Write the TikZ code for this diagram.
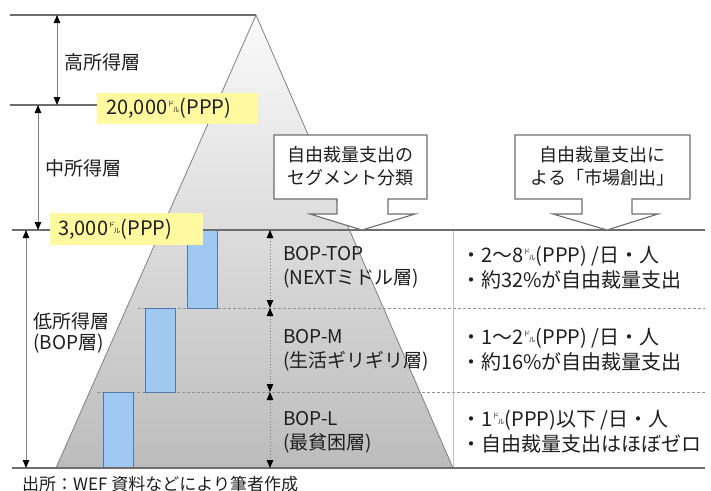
\documentclass[tikz,border=0pt]{standalone}
\usepackage{fontspec}
\setmainfont{Noto Sans CJK JP}
\usetikzlibrary{arrows.meta}
\definecolor{ylw}{RGB}{255,250,160}
\definecolor{pyrtop}{RGB}{250,250,250}
\definecolor{pyrbot}{RGB}{188,188,188}
\definecolor{barfill}{RGB}{160,200,240}
\definecolor{bardraw}{RGB}{80,120,170}
\definecolor{linegray}{RGB}{110,110,110}
\definecolor{txt}{RGB}{30,30,30}
\newcommand{\doru}{{\fontsize{7}{7}\selectfont\raisebox{8pt}{ド}\kern-1.5pt\raisebox{2pt}{ル}}}
\tikzset{
  hline/.style={draw=linegray, line width=1.2pt},
  dline/.style={draw=gray!85, line width=0.9pt, dash pattern=on 3pt off 2pt},
  edge/.style={draw=gray, line width=0.8pt},
  darrow/.style={draw=gray, line width=0.9pt, {Triangle[length=8pt,width=6.5pt,black]}-{Triangle[length=8pt,width=6.5pt,black]}},
  dotarrow/.style={draw=gray, line width=1pt, dash pattern=on 1.5pt off 1.5pt, {Triangle[length=8pt,width=6.5pt,black]}-{Triangle[length=8pt,width=6.5pt,black]}},
  bar/.style={draw=bardraw, fill=barfill, line width=1pt, anchor=north west, minimum width=30pt, inner sep=0pt},
  ybox/.style={fill=ylw, anchor=north west, inner sep=0pt},
  lbl/.style={text=txt, anchor=west, inner sep=0pt, font=\fontsize{19}{21}\selectfont, align=left},
  rlbl/.style={text=txt, anchor=west, inner sep=0pt, font=\fontsize{19}{24}\selectfont, align=left},
  clbl/.style={text=txt, inner sep=0pt, font=\fontsize{18}{23}\selectfont, align=center},
  callout/.style={draw=linegray, fill=white, line width=1.1pt, line join=miter},
}
\begin{document}
\begin{tikzpicture}[x=1pt,y=-1pt]
\useasboundingbox (0,0) rectangle (711,490);
\clip (0,0) rectangle (711,490);
% pyramid
\coordinate (apex) at (256,15);
\coordinate (pl) at (56,468);
\coordinate (pr) at (453,468);
\shade[top color=pyrtop, bottom color=pyrbot] (apex) -- (pl) -- (pr) -- cycle;
\draw[edge] (apex) -- (pl);
\draw[edge] (apex) -- (pr);
% dashed row separators
\coordinate (d1l) at (138,308); \coordinate (d1r) at (705,308);
\coordinate (d2l) at (97,392);  \coordinate (d2r) at (705,392);
\draw[dline] (d1l) -- (d1r);
\draw[dline] (d2l) -- (d2r);
% column divider
\coordinate (vt) at (453,230); \coordinate (vb) at (453,468);
\draw[draw=gray!50, line width=0.8pt] (vt) -- (vb);
% blue bars
\node[bar, minimum height=78pt] (b1) at (187,230) {};
\node[bar, minimum height=84pt] (b2) at (145,308) {};
\node[bar, minimum height=76pt] (b3) at (103,392) {};
% main horizontal lines
\coordinate (h0l) at (10,15);  \coordinate (h0r) at (256,15);
\coordinate (h1l) at (10,105); \coordinate (h1r) at (100,105);
\coordinate (h2l) at (12,230); \coordinate (h2r) at (705,230);
\coordinate (h3l) at (12,468); \coordinate (h3r) at (705,468);
\draw[hline] (h0l) -- (h0r);
\draw[hline] (h1l) -- (h1r);
\draw[hline] (h2l) -- (h2r);
\draw[hline] (h3l) -- (h3r);
% left arrows
\coordinate (a1t) at (57,15);  \coordinate (a1b) at (57,105);
\coordinate (a2t) at (38,105); \coordinate (a2b) at (38,230);
\coordinate (a3t) at (26,230); \coordinate (a3b) at (26,468);
\draw[darrow] (a1t) -- (a1b);
\draw[darrow] (a2t) -- (a2b);
\draw[darrow] (a3t) -- (a3b);
\node[lbl] (high) at (64,62) {高所得層};
\node[lbl] (mid) at (45,168) {中所得層};
\node[lbl] (low) at (33,333) {低所得層\\(BOP層)};
% yellow labels
\node[ybox, minimum width=161pt, minimum height=31pt] (y1) at (97,93) {};
\node[lbl, font=\fontsize{20}{20}\selectfont] (y1t) at ([xshift=9pt]y1.west) {20,000\doru(PPP)};
\node[ybox, minimum width=153pt, minimum height=32pt] (y2) at (50,213) {};
\node[lbl, font=\fontsize{20}{20}\selectfont] (y2t) at ([xshift=8pt]y2.west) {3,000\doru(PPP)};
% inner dotted arrows
\coordinate (i0) at (270,230); \coordinate (i1) at (270,308);
\coordinate (i2) at (270,392); \coordinate (i3) at (270,468);
\draw[dotarrow] (i0) -- (i1);
\draw[dotarrow] (i1) -- (i2);
\draw[dotarrow] (i2) -- (i3);
% segment labels
\node[rlbl] (s1) at (283,267) {BOP-TOP\\(NEXTミドル層)};
\node[rlbl] (s2) at (283,350) {BOP-M\\(生活ギリギリ層)};
\node[rlbl] (s3) at (283,432) {BOP-L\\(最貧困層)};
% right column
\node[rlbl, font=\fontsize{20}{25}\selectfont] (r1) at (461,268) {・2～8\doru(PPP) /日・人\\・約32\%が自由裁量支出};
\node[rlbl, font=\fontsize{20}{25}\selectfont] (r2) at (461,350) {・1～2\doru(PPP) /日・人\\・約16\%が自由裁量支出};
\node[rlbl, font=\fontsize{20}{25}\selectfont] (r3) at (461,432) {・1\doru(PPP)以下 /日・人\\・自由裁量支出はほぼゼロ};
% callouts
\draw[callout] (274,135) -- (427,135) -- (427,199) -- (388,199) -- (388,214) -- (415,214)
  -- (362,230) -- (310,214) -- (337,214) -- (337,199) -- (274,199) -- cycle;
\node[clbl] (c1) at (350.5,166) {自由裁量支出の\\セグメント分類};
\draw[callout] (515,135) -- (690,135) -- (690,199) -- (632,199) -- (632,214) -- (658,214)
  -- (607,230) -- (553,214) -- (582,214) -- (582,199) -- (515,199) -- cycle;
\node[clbl] (c2) at (602.5,166) {自由裁量支出に\\よる「市場創出」};
% source
\node[text=txt, anchor=base west, inner sep=0pt, font=\fontsize{17}{17}\selectfont] (src) at (22,490) {出所：WEF 資料などにより筆者作成};
\end{tikzpicture}
\end{document}
